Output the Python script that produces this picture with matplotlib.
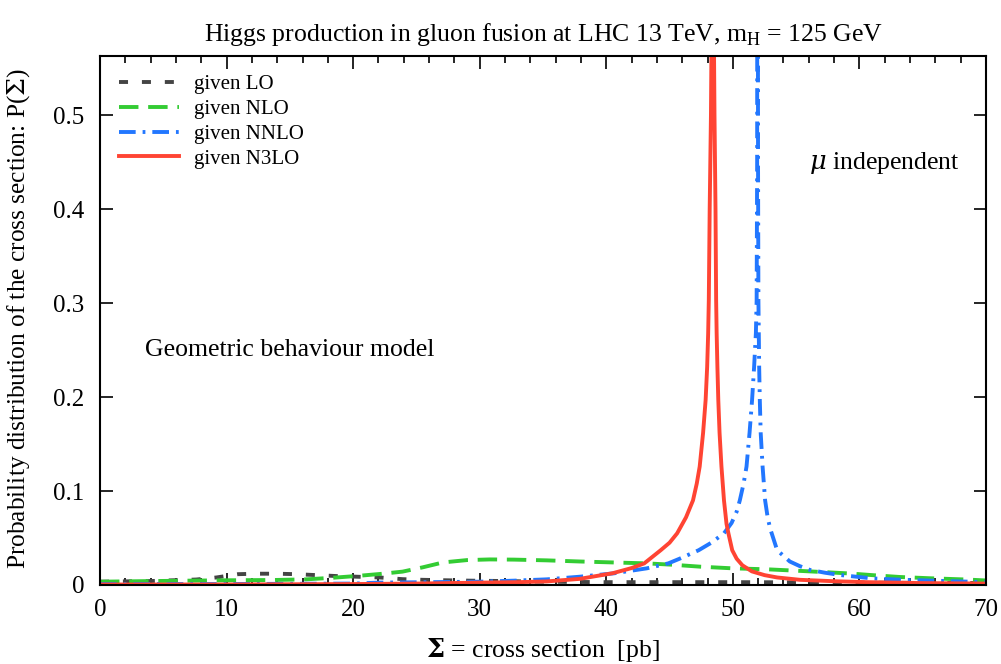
import matplotlib
matplotlib.use("Agg")
import matplotlib.pyplot as plt
from matplotlib.ticker import MultipleLocator, FormatStrFormatter

# --- data ---
lo_x = [0, 4, 7.6, 9.2, 10.9, 12.4, 14, 15.5, 17.1, 18.7, 20.3, 22.1, 23.9, 25.5,
        27.4, 29.2, 32, 35, 40, 45, 50, 55, 60, 65, 70]
lo_y = [0.0035, 0.0042, 0.0058, 0.008, 0.0115, 0.012, 0.012, 0.0115, 0.0105, 0.0095,
        0.0088, 0.008, 0.0062, 0.0055, 0.005, 0.0046, 0.0042, 0.0035, 0.003, 0.003,
        0.003, 0.0028, 0.0025, 0.0022, 0.002]

nlo_x = [0, 3, 7, 10, 13.7, 16.3, 18.5, 20.3, 22.1, 23.9, 25.5, 27.1, 29, 30.8, 32.7,
         35.3, 37.9, 40.5, 43.2, 45.3, 47.4, 50, 52.7, 55.3, 57.5, 59.3, 61, 63.2,
         65.5, 68.5, 70]
nlo_y = [0.0035, 0.004, 0.0046, 0.005, 0.0053, 0.006, 0.0078, 0.0096, 0.0117, 0.0142,
         0.0188, 0.024, 0.0265, 0.0272, 0.027, 0.0262, 0.025, 0.024, 0.023, 0.0215,
         0.0195, 0.0177, 0.0167, 0.015, 0.0135, 0.0122, 0.0105, 0.0085, 0.0072,
         0.0058, 0.0048]

nnlo_x = [0, 10, 20, 22, 26, 30, 32.7, 35.3, 37.9, 40.6, 43.2, 44.9, 45.8, 47.3, 48.3,
          49.3, 49.9, 50.3, 50.55, 50.85, 51.08, 51.32, 51.52, 51.68, 51.82, 51.88,
          51.92, 51.95, 51.99, 52.02, 52.05, 52.08, 52.13, 52.2, 52.35, 52.55, 52.75,
          52.95, 53.5, 54.5, 55.3, 56.1, 57.3, 58.5, 61, 63.5, 65.8, 70]
nnlo_y = [0.001, 0.001, 0.0015, 0.0025, 0.003, 0.0035, 0.0046, 0.006, 0.0088, 0.0124,
          0.0177, 0.023, 0.028, 0.037, 0.045, 0.055, 0.066, 0.078, 0.09, 0.108, 0.126,
          0.162, 0.197, 0.232, 0.268, 0.303, 0.45, 1.2, 0.45, 0.303, 0.268, 0.232,
          0.197, 0.162, 0.126, 0.09, 0.072, 0.06, 0.037, 0.025, 0.02, 0.016, 0.013,
          0.0106, 0.007, 0.0055, 0.0046, 0.003]

n3lo_x = [0, 10, 20, 25, 30, 33, 35.3, 37.9, 40.5, 42, 43, 44.3, 45, 45.6, 46.3, 46.85,
          47.15, 47.38, 47.65, 47.85, 47.97, 48.05, 48.1, 48.17, 48.27, 48.41, 48.55,
          48.63, 48.68, 48.72, 48.78, 48.85, 48.95, 49.1, 49.3, 49.5, 49.65, 49.95,
          50.3, 50.75, 51.5, 52.5, 53.5, 55.3, 58, 60.6, 65, 70]
n3lo_y = [0.0005, 0.0005, 0.001, 0.0015, 0.0025, 0.003, 0.0038, 0.0065, 0.0125, 0.018,
          0.023, 0.037, 0.045, 0.055, 0.072, 0.09, 0.108, 0.126, 0.162, 0.197, 0.232,
          0.268, 0.303, 0.4, 0.5, 0.75, 0.5, 0.4, 0.303, 0.268, 0.232, 0.197, 0.162,
          0.126, 0.09, 0.065, 0.055, 0.037, 0.028, 0.021, 0.0145, 0.0105, 0.008,
          0.0055, 0.004, 0.003, 0.002, 0.0015]

plt.rcParams['font.family'] = ['Liberation Serif', 'DejaVu Serif']
plt.rcParams['mathtext.fontset'] = 'dejavuserif'
plt.rcParams['lines.scale_dashes'] = False

fig = plt.figure(figsize=(10.01, 6.64), dpi=100)
ax = fig.add_axes([0.0999, 0.119, 0.8851, 0.7967])

lw = 2.8
ax.plot(lo_x, lo_y, color='#444444', lw=lw, linestyle=(0, (6.5, 10)), label='given LO')
ax.plot(nlo_x, nlo_y, color='#33cc33', lw=lw, linestyle=(0, (14, 7)), label='given NLO')
ax.plot(nnlo_x, nnlo_y, color='#2277ff', lw=lw, linestyle=(0, (12, 5, 2, 5)),
        label='given NNLO')
ax.plot(n3lo_x, n3lo_y, color='#ff4433', lw=lw, linestyle='-', label='given N3LO')

ax.set_xlim(0, 70)
ax.set_ylim(0, 0.563)
ax.xaxis.set_major_locator(MultipleLocator(10))
ax.xaxis.set_minor_locator(MultipleLocator(2))
ax.yaxis.set_major_locator(MultipleLocator(0.1))
ax.yaxis.set_major_formatter(FormatStrFormatter('%g'))
ax.tick_params(which='both', direction='in', top=True, right=True, labelsize=18,
               width=1.2)
ax.tick_params(which='major', length=9)
ax.tick_params(axis='y', which='major', pad=11)
ax.tick_params(axis='x', which='major', pad=10)
ax.tick_params(which='minor', length=5)
for s in ax.spines.values():
    s.set_linewidth(1.5)

ax.set_title(r'Higgs production in gluon fusion at LHC 13 TeV, m$_\mathregular{H}$ = 125 GeV',
             fontsize=18.5, pad=11)
ax.set_xlabel(r'$\mathbf{\Sigma}$ = cross section  [pb]', fontsize=18.5, labelpad=11)
ax.set_ylabel(r'Probability distribution of the cross section: P($\Sigma$)', fontsize=18.3)
ax.yaxis.set_label_coords(-0.077, 0.503)

ax.text(3.55, 0.25, 'Geometric behaviour model', fontsize=18.5, va='center', ha='left')
ax.text(67.9, 0.449, r'$\mu$ independent', fontsize=18.5, va='center', ha='right')

ax.legend(loc='upper left', bbox_to_anchor=(0.0, 1.0), frameon=False, fontsize=15,
          handlelength=2.9, handletextpad=0.7, labelspacing=0.25, borderaxespad=0.5)

fig.savefig('out.png', dpi=100)
